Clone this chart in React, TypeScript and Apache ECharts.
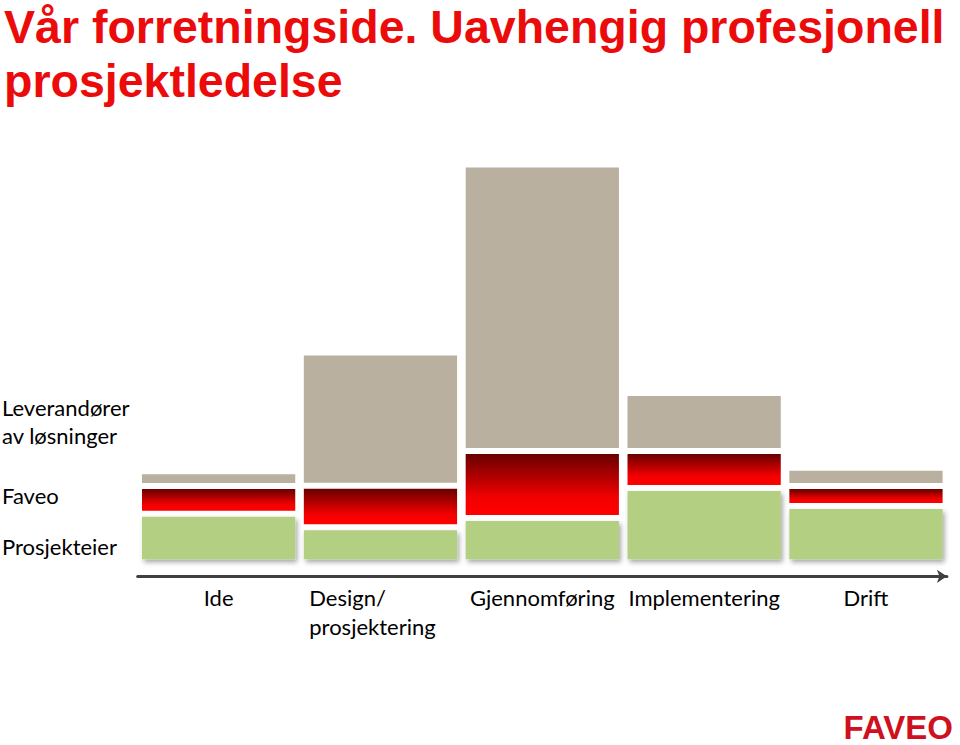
import React, { useEffect, useRef } from "react";
import * as echarts from "echarts";

const titleLines = ["Vår forretningside. Uavhengig profesjonell", "prosjektledelse"];
const categories = ["Ide", "Design/\nprosjektering", "Gjennomføring", "Implementering", "Drift"];
const seriesNames = ["Prosjekteier", "Faveo", "Leverandører av løsninger"];
const prosjekteier = [11.4, 8.0, 10.3, 17.8, 13.3];
const faveo = [6.9, 10.4, 16.8, 9.3, 5.0];
const leverandorer = [3.7, 33.3, 71.6, 14.5, 4.6];

const FONT = "Lato, 'Open Sans', sans-serif";

function buildOption() {
  const layers = [prosjekteier, faveo, leverandorer];
  const bases: number[][] = [];
  let acc = categories.map(() => 0);
  layers.forEach((arr) => {
    bases.push(acc.slice());
    acc = acc.map((v, i) => v + arr[i]);
  });

  const fills: any[] = [
    "#b3cf82",
    new echarts.graphic.LinearGradient(0, 0, 0, 1, [
      { offset: 0, color: "#680000" },
      { offset: 0.72, color: "#f40000" },
      { offset: 1, color: "#ff0000" },
    ]),
    "#b9b09f",
  ];

  const GAP_HALF = 3;

  const series = layers.map((arr, li) => ({
    type: "custom",
    name: seriesNames[li],
    data: arr.map((v, i) => [i, bases[li][i], bases[li][i] + v]),
    encode: { x: 0, y: [1, 2] },
    renderItem: (params: any, api: any) => {
      const idx = api.value(0);
      const lo = api.value(1);
      const hi = api.value(2);
      const p0 = api.coord([idx, lo]);
      const p1 = api.coord([idx, hi]);
      const band = api.size([1, 0])[0];
      const w = band * 0.947;
      const yTop = p1[1] + GAP_HALF;
      const yBot = lo === 0 ? p0[1] : p0[1] - GAP_HALF;
      const style: any = { fill: fills[li] };
      if (li === 0) {
        style.shadowBlur = 5;
        style.shadowOffsetX = 2;
        style.shadowOffsetY = 3;
        style.shadowColor = "rgba(0,0,0,0.35)";
      }
      return {
        type: "rect",
        shape: { x: p0[0] - w / 2, y: yTop, width: w, height: yBot - yTop },
        style,
      };
    },
  }));

  const labelFont = { fontFamily: FONT, fontSize: 22, color: "#000" };
  const titleStyle = {
    font: "bold 46.5px 'Liberation Sans', Arial, sans-serif",
    fill: "#ec0b0b",
    verticalAlign: "middle",
  };

  return {
    animation: false,
    backgroundColor: "#ffffff",
    grid: { left: 137.7, right: 13.1, top: 159.3, bottom: 185.7, containLabel: false },
    xAxis: {
      type: "category",
      data: categories.map((c, i) =>
        i === 1 ? { value: c, textStyle: { padding: [0, 16, 0, 0] } } : c
      ),
      offset: 17,
      axisTick: { show: false },
      axisLine: {
        show: true,
        onZero: false,
        symbol: ["none", "arrow"],
        symbolSize: [10, 10],
        lineStyle: { color: "#404040", width: 3 },
      },
      axisLabel: {
        margin: 7,
        interval: 0,
        lineHeight: 29,
        ...labelFont,
        formatter: (v: string) =>
          v
            .split("\n")
            .map((s) => `{a|${s}}`)
            .join("\n"),
        rich: { a: { align: "left", lineHeight: 29, ...labelFont } },
      },
    },
    yAxis: {
      type: "value",
      min: 0,
      max: 100,
      show: false,
      splitLine: { show: false },
    },
    graphic: [
      { type: "text", x: 4, y: 27, style: { text: titleLines[0], ...titleStyle } },
      { type: "text", x: 4, y: 81, style: { text: titleLines[1], ...titleStyle } },
      { type: "text", x: 2, y: 407, style: { text: "Leverandører", verticalAlign: "middle", font: `22px ${FONT}`, fill: "#000" } },
      { type: "text", x: 2, y: 435, style: { text: "av løsninger", verticalAlign: "middle", font: `22px ${FONT}`, fill: "#000" } },
      { type: "text", x: 2, y: 495, style: { text: "Faveo", verticalAlign: "middle", font: `22px ${FONT}`, fill: "#000" } },
      { type: "text", x: 2, y: 546, style: { text: "Prosjekteier", verticalAlign: "middle", font: `22px ${FONT}`, fill: "#000" } },
      {
        type: "text",
        x: 953,
        y: 727,
        style: {
          text: "FAVEO",
          align: "right",
          verticalAlign: "middle",
          font: "bold 33px 'Liberation Sans', sans-serif",
          fill: "#cf1020",
        },
      },
    ],
    series,
  };
}

export default function App() {
  const ref = useRef<HTMLDivElement>(null);
  useEffect(() => {
    if (!ref.current) return;
    const chart = echarts.init(ref.current, undefined, { renderer: "svg" });
    chart.setOption(buildOption() as any);
    return () => chart.dispose();
  }, []);
  return (
    <div
      ref={ref}
      style={{ position: "fixed", left: 0, top: 0, width: 960, height: 745, background: "#fff" }}
    />
  );
}
